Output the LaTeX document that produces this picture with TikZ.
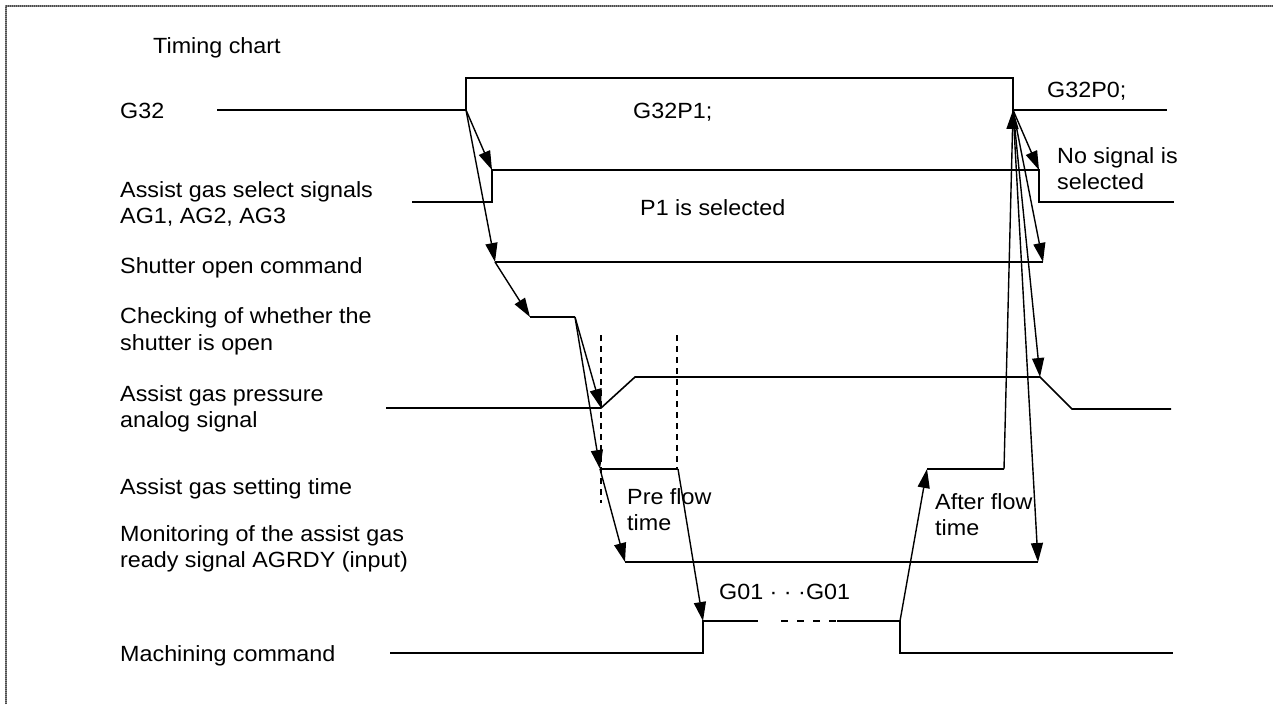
\documentclass[tikz,border=0pt]{standalone}
\usepackage{fontspec}
\setmainfont[FakeStretch=1.06]{Liberation Sans}
\usetikzlibrary{arrows.meta}

\begin{document}
\begin{tikzpicture}[x=1pt,y=-1pt,
  sig/.style={line width=1.6pt, line join=miter},
  ev/.style={line width=1.4pt, -{Triangle[length=19pt,width=12pt]}},
  guide/.style={line width=1.3pt, dash pattern=on 6pt off 5pt},
  lbl/.style={anchor=base west, inner sep=0pt, font=\fontsize{22}{26}\selectfont},
  frame/.style={line width=2pt, draw=black!45}]

\useasboundingbox (0,0) rectangle (1273,704);

% page frame (dithered grey rule)
\draw[frame] (6,704) -- (6,6) -- (1273,6);
\draw[line width=2pt, draw=black!70, dash pattern=on 1pt off 1pt] (6,704) -- (6,6) -- (1273,6);

% ---- signal points ----
% G32
\coordinate (g0) at (217,110); \coordinate (g1) at (466,110);
\coordinate (g2) at (466,78);  \coordinate (g3) at (1013,78);
\coordinate (g4) at (1013,110); \coordinate (g5) at (1167,110);
% assist gas select signals
\coordinate (a0) at (412,202); \coordinate (a1) at (492,202);
\coordinate (a2) at (492,170); \coordinate (a3) at (1039,170);
\coordinate (a4) at (1039,202); \coordinate (a5) at (1174,202);
% shutter open command
\coordinate (s1) at (495,262); \coordinate (s2) at (1043,262);
% shutter check
\coordinate (c1) at (530,317); \coordinate (c2) at (575,317);
% pressure analog signal
\coordinate (p0) at (386,408); \coordinate (p1) at (601,408);
\coordinate (p2) at (635,377); \coordinate (p3) at (1040,377);
\coordinate (p4) at (1072,409); \coordinate (p5) at (1171,409);
% setting time
\coordinate (t1) at (600,469); \coordinate (t2) at (678,469);
\coordinate (t3) at (927,469); \coordinate (t4) at (1004,469);
% AGRDY monitoring
\coordinate (m1) at (625,562); \coordinate (m2) at (1038,562);
% machining command
\coordinate (k0) at (390,653); \coordinate (k1) at (703,653);
\coordinate (k2) at (703,621); \coordinate (k3) at (758,621);
\coordinate (k4) at (781,621); \coordinate (k5) at (837,621);
\coordinate (k6) at (900,621); \coordinate (k7) at (900,653);
\coordinate (k8) at (1173,653);
% pre flow guides
\coordinate (d1a) at (601,335); \coordinate (d1b) at (601,503);
\coordinate (d2a) at (677,335); \coordinate (d2b) at (677,469);

% ---- waveforms ----
\draw[sig] (g0) -- (g1) -- (g2) -- (g3) -- (g4) -- (g5);
\draw[sig] (a0) -- (a1) -- (a2) -- (a3) -- (a4) -- (a5);
\draw[sig] (s1) -- (s2);
\draw[sig] (c1) -- (c2);
\draw[sig] (p0) -- (p1) -- (p2) -- (p3) -- (p4) -- (p5);
\draw[sig] (t1) -- (t2);
\draw[sig] (t3) -- (t4);
\draw[sig] (m1) -- (m2);
\draw[sig] (k0) -- (k1) -- (k2) -- (k3);
\draw[sig, dash pattern=on 7pt off 9pt] (k4) -- (k5);
\draw[sig] (k5) -- (k6) -- (k7) -- (k8);
\draw[guide] (d1a) -- (d1b);
\draw[guide] (d2a) -- (d2b);

% ---- sequence arrows ----
\draw[ev] (g1) -- (a2);
\draw[ev] (g1) -- (s1);
\draw[ev] (s1) -- (c1);
\draw[ev] (c2) -- (p1);
\draw[ev] (c2) -- (t1);
\draw[ev] (t1) -- (m1);
\draw[ev] (t2) -- (k2);
\draw[ev] (k6) -- (t3);
\draw[ev] (t4) -- (g4);
\draw[ev] (g4) -- (a3);
\draw[ev] (g4) -- (s2);
\draw[ev] (g4) -- (p3);
\draw[ev] (g4) -- (m2);

% ---- signal names ----
\node[lbl] (title) at (153,53) {Timing chart};
\node[lbl] (nG32) at (120,118) {G32};
\node[lbl] (nAG1) at (120,197) {Assist gas select signals};
\node[lbl] (nAG2) at (120,223) {AG1, AG2, AG3};
\node[lbl] (nSh) at (120,273) {Shutter open command};
\node[lbl] (nCk1) at (120,323) {Checking of whether the};
\node[lbl] (nCk2) at (120,350) {shutter is open};
\node[lbl] (nPr1) at (120,401) {Assist gas pressure};
\node[lbl] (nPr2) at (120,427) {analog signal};
\node[lbl] (nSet) at (120,494) {Assist gas setting time};
\node[lbl] (nMo1) at (120,541) {Monitoring of the assist gas};
\node[lbl] (nMo2) at (120,567) {ready signal AGRDY (input)};
\node[lbl] (nMc) at (120,661) {Machining command};

% ---- annotations ----
\node[lbl] (cmd1) at (633,118) {G32P1;};
\node[lbl] (cmd0) at (1047,97) {G32P0;};
\node[lbl] (sel1) at (640,215) {P1 is selected};
\node[lbl] (nos1) at (1057,163) {No signal is};
\node[lbl] (nos2) at (1057,189) {selected};
\node[lbl] (pre1) at (627,504) {Pre flow};
\node[lbl] (pre2) at (627,530) {time};
\node[lbl] (aft1) at (935,509) {After flow};
\node[lbl] (aft2) at (935,535) {time};
\node[lbl] (g01) at (719,599) {G01 · · ·G01};

\end{tikzpicture}
\end{document}
